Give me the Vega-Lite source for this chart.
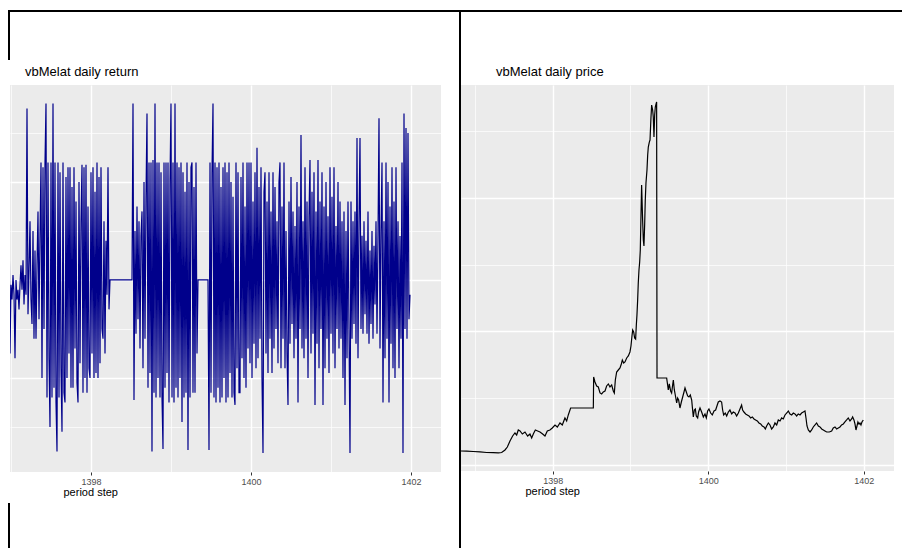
{
"$schema": "https://vega.github.io/schema/vega-lite/v6.json",
"background": "white",
"padding": {"left": 8, "top": 10, "right": 0, "bottom": 0},
"config": {"view": {"stroke": null}, "font": "Liberation Sans", "concat": {"spacing": 0}},
"datasets": {
"ret": [
{"t":1396.975,"r":1.7},{"t":1396.9875,"r":-1.5},{"t":1397,"r":-0.1},{"t":1397.0125,"r":-0.4},{"t":1397.025,"r":0.1},{"t":1397.0375,"r":-0.3},{"t":1397.05,"r":-1.6},{"t":1397.0625,"r":0.0},{"t":1397.075,"r":-0.4},{"t":1397.0875,"r":-0.2},{"t":1397.1,"r":-0.6},{"t":1397.1125,"r":-0.1},{"t":1397.125,"r":0.3},{"t":1397.1375,"r":-0.2},{"t":1397.15,"r":0.4},{"t":1397.1625,"r":-0.5},{"t":1397.175,"r":0.1},{"t":1397.1875,"r":-0.3},{"t":1397.2,"r":3.5},{"t":1397.2125,"r":-0.7},{"t":1397.225,"r":0.2},{"t":1397.2375,"r":1.2},{"t":1397.25,"r":-0.4},{"t":1397.2625,"r":-0.9},{"t":1397.275,"r":1.0},{"t":1397.2875,"r":-1.2},{"t":1397.3,"r":0.6},{"t":1397.3125,"r":-1.2},{"t":1397.325,"r":0.3},{"t":1397.3375,"r":1.4},{"t":1397.35,"r":-0.8},{"t":1397.3625,"r":0.9},{"t":1397.375,"r":2.4},{"t":1397.3875,"r":-2.0},{"t":1397.4,"r":2.3},{"t":1397.4125,"r":-1.0},{"t":1397.425,"r":2.4},{"t":1397.4375,"r":3.6},{"t":1397.45,"r":-2.4},{"t":1397.4625,"r":2.4},{"t":1397.475,"r":-1.6},{"t":1397.4875,"r":-3.0},{"t":1397.5,"r":2.4},{"t":1397.5125,"r":-2.4},{"t":1397.525,"r":3.6},{"t":1397.5375,"r":-2.2},{"t":1397.55,"r":2.4},{"t":1397.5625,"r":-2.5},{"t":1397.575,"r":-3.5},{"t":1397.5875,"r":2.4},{"t":1397.6,"r":-2.4},{"t":1397.6125,"r":2.2},{"t":1397.625,"r":-1.8},{"t":1397.6375,"r":-3.1},{"t":1397.65,"r":2.4},{"t":1397.6625,"r":-2.3},{"t":1397.675,"r":-2.5},{"t":1397.6875,"r":2.1},{"t":1397.7,"r":-2.0},{"t":1397.7125,"r":2.3},{"t":1397.725,"r":-1.5},{"t":1397.7375,"r":2.3},{"t":1397.75,"r":-2.2},{"t":1397.7625,"r":1.9},{"t":1397.775,"r":-2.2},{"t":1397.7875,"r":2.3},{"t":1397.8,"r":-1.4},{"t":1397.8125,"r":1.6},{"t":1397.825,"r":-2.1},{"t":1397.8375,"r":-2.5},{"t":1397.85,"r":2.0},{"t":1397.8625,"r":-1.7},{"t":1397.875,"r":1.2},{"t":1397.8875,"r":2.35},{"t":1397.9,"r":-2.3},{"t":1397.9125,"r":2.3},{"t":1397.925,"r":-2.0},{"t":1397.9375,"r":2.35},{"t":1397.95,"r":-2.3},{"t":1397.9625,"r":1.5},{"t":1397.975,"r":-1.8},{"t":1397.9875,"r":-2.0},
{"t":1398,"r":2.2},{"t":1398.0125,"r":-1.5},{"t":1398.025,"r":2.3},{"t":1398.0375,"r":-2.0},{"t":1398.05,"r":1.8},{"t":1398.0625,"r":-1.9},{"t":1398.075,"r":2.4},{"t":1398.0875,"r":-2.0},{"t":1398.1,"r":2.1},{"t":1398.1125,"r":-1.7},{"t":1398.125,"r":2.3},{"t":1398.1375,"r":-1.0},{"t":1398.15,"r":-1.2},{"t":1398.1625,"r":1.2},{"t":1398.175,"r":-1.5},{"t":1398.1875,"r":0.8},{"t":1398.2,"r":-0.3},{"t":1398.2125,"r":2.3},{"t":1398.225,"r":-0.6},{"t":1398.2375,"r":0.0},{"t":1398.5125,"r":0.0},{"t":1398.525,"r":3.6},{"t":1398.5375,"r":-2.45},{"t":1398.55,"r":1.0},{"t":1398.5625,"r":-1.1},{"t":1398.575,"r":1.5},{"t":1398.5875,"r":-0.8},{"t":1398.6,"r":1.2},{"t":1398.6125,"r":-1.4},{"t":1398.625,"r":0.9},{"t":1398.6375,"r":1.4},{"t":1398.65,"r":-1.8},{"t":1398.6625,"r":2.0},{"t":1398.675,"r":-1.2},{"t":1398.6875,"r":1.7},{"t":1398.7,"r":3.4},{"t":1398.7125,"r":-2.2},{"t":1398.725,"r":2.4},{"t":1398.7375,"r":-1.9},{"t":1398.75,"r":2.4},{"t":1398.7625,"r":-3.5},{"t":1398.775,"r":2.45},{"t":1398.7875,"r":-2.3},{"t":1398.8,"r":3.6},{"t":1398.8125,"r":-2.4},{"t":1398.825,"r":2.4},{"t":1398.8375,"r":-2.0},{"t":1398.85,"r":2.4},{"t":1398.8625,"r":-2.4},{"t":1398.875,"r":2.2},{"t":1398.8875,"r":-2.4},{"t":1398.9,"r":-3.45},{"t":1398.9125,"r":2.4},{"t":1398.925,"r":-2.2},{"t":1398.9375,"r":2.4},{"t":1398.95,"r":-1.9},{"t":1398.9625,"r":2.4},{"t":1398.975,"r":-2.5},{"t":1398.9875,"r":2.0},
{"t":1399,"r":3.6},{"t":1399.0125,"r":-2.4},{"t":1399.025,"r":2.4},{"t":1399.0375,"r":-2.5},{"t":1399.05,"r":3.6},{"t":1399.0625,"r":-2.2},{"t":1399.075,"r":2.4},{"t":1399.0875,"r":-2.4},{"t":1399.1,"r":2.3},{"t":1399.1125,"r":-2.0},{"t":1399.125,"r":2.4},{"t":1399.1375,"r":-2.9},{"t":1399.15,"r":2.2},{"t":1399.1625,"r":-2.4},{"t":1399.175,"r":1.8},{"t":1399.1875,"r":-2.3},{"t":1399.2,"r":2.4},{"t":1399.2125,"r":-3.47},{"t":1399.225,"r":2.0},{"t":1399.2375,"r":-2.4},{"t":1399.25,"r":2.3},{"t":1399.2625,"r":2.4},{"t":1399.275,"r":-2.3},{"t":1399.2875,"r":1.9},{"t":1399.3,"r":-2.3},{"t":1399.3125,"r":2.4},{"t":1399.325,"r":-1.5},{"t":1399.3375,"r":0.0},{"t":1399.4625,"r":0.0},{"t":1399.475,"r":-3.47},{"t":1399.4875,"r":2.4},{"t":1399.5,"r":-2.3},{"t":1399.5125,"r":2.2},{"t":1399.525,"r":3.6},{"t":1399.5375,"r":-2.4},{"t":1399.55,"r":2.4},{"t":1399.5625,"r":-2.5},{"t":1399.575,"r":2.3},{"t":1399.5875,"r":-2.2},{"t":1399.6,"r":2.4},{"t":1399.6125,"r":-2.5},{"t":1399.625,"r":1.9},{"t":1399.6375,"r":-2.4},{"t":1399.65,"r":2.3},{"t":1399.6625,"r":-2.0},{"t":1399.675,"r":2.4},{"t":1399.6875,"r":-2.5},{"t":1399.7,"r":2.2},{"t":1399.7125,"r":-2.4},{"t":1399.725,"r":2.4},{"t":1399.7375,"r":-1.9},{"t":1399.75,"r":2.0},{"t":1399.7625,"r":-2.4},{"t":1399.775,"r":1.7},{"t":1399.7875,"r":-2.3},{"t":1399.8,"r":-2.55},{"t":1399.8125,"r":2.4},{"t":1399.825,"r":-1.8},{"t":1399.8375,"r":2.2},{"t":1399.85,"r":-2.3},{"t":1399.8625,"r":-2.3},{"t":1399.875,"r":2.1},{"t":1399.8875,"r":-1.6},{"t":1399.9,"r":2.4},{"t":1399.9125,"r":-2.0},{"t":1399.925,"r":1.5},{"t":1399.9375,"r":-2.2},{"t":1399.95,"r":2.4},{"t":1399.9625,"r":-1.4},{"t":1399.975,"r":2.4},{"t":1399.9875,"r":-1.7},
{"t":1400,"r":2.4},{"t":1400.0125,"r":-2.0},{"t":1400.025,"r":1.6},{"t":1400.0375,"r":-1.3},{"t":1400.05,"r":2.2},{"t":1400.0625,"r":-1.8},{"t":1400.075,"r":2.7},{"t":1400.0875,"r":-1.6},{"t":1400.1,"r":1.9},{"t":1400.1125,"r":-1.2},{"t":1400.125,"r":2.3},{"t":1400.1375,"r":-2.0},{"t":1400.15,"r":-3.53},{"t":1400.1625,"r":1.8},{"t":1400.175,"r":2.2},{"t":1400.1875,"r":-1.5},{"t":1400.2,"r":1.6},{"t":1400.2125,"r":-1.9},{"t":1400.225,"r":2.2},{"t":1400.2375,"r":-1.2},{"t":1400.25,"r":1.4},{"t":1400.2625,"r":-1.9},{"t":1400.275,"r":2.2},{"t":1400.2875,"r":-1.4},{"t":1400.3,"r":1.9},{"t":1400.3125,"r":-1.0},{"t":1400.325,"r":1.2},{"t":1400.3375,"r":-1.7},{"t":1400.35,"r":2.0},{"t":1400.3625,"r":2.4},{"t":1400.375,"r":-1.8},{"t":1400.3875,"r":1.5},{"t":1400.4,"r":-1.2},{"t":1400.4125,"r":2.4},{"t":1400.425,"r":-1.8},{"t":1400.4375,"r":1.0},{"t":1400.45,"r":-1.5},{"t":1400.4625,"r":-2.55},{"t":1400.475,"r":1.6},{"t":1400.4875,"r":-1.3},{"t":1400.5,"r":2.1},{"t":1400.5125,"r":-0.9},{"t":1400.525,"r":1.4},{"t":1400.5375,"r":-1.6},{"t":1400.55,"r":1.1},{"t":1400.5625,"r":-1.2},{"t":1400.575,"r":2.0},{"t":1400.5875,"r":-2.5},{"t":1400.6,"r":1.5},{"t":1400.6125,"r":-1.0},{"t":1400.625,"r":2.96},{"t":1400.6375,"r":-1.4},{"t":1400.65,"r":1.2},{"t":1400.6625,"r":-1.6},{"t":1400.675,"r":2.3},{"t":1400.6875,"r":-1.2},{"t":1400.7,"r":1.6},{"t":1400.7125,"r":-2.0},{"t":1400.725,"r":1.3},{"t":1400.7375,"r":2.45},{"t":1400.75,"r":-1.5},{"t":1400.7625,"r":1.8},{"t":1400.775,"r":-1.1},{"t":1400.7875,"r":2.2},{"t":1400.8,"r":-2.55},{"t":1400.8125,"r":1.4},{"t":1400.825,"r":-1.3},{"t":1400.8375,"r":2.45},{"t":1400.85,"r":-1.8},{"t":1400.8625,"r":1.6},{"t":1400.875,"r":-1.0},{"t":1400.8875,"r":2.2},{"t":1400.9,"r":-2.55},{"t":1400.9125,"r":1.5},{"t":1400.925,"r":-1.8},{"t":1400.9375,"r":2.0},{"t":1400.95,"r":-1.2},{"t":1400.9625,"r":1.3},{"t":1400.975,"r":-1.9},{"t":1400.9875,"r":2.3},
{"t":1401,"r":-1.1},{"t":1401.0125,"r":1.7},{"t":1401.025,"r":-1.5},{"t":1401.0375,"r":2.3},{"t":1401.05,"r":-1.8},{"t":1401.0625,"r":1.1},{"t":1401.075,"r":-1.0},{"t":1401.0875,"r":2.0},{"t":1401.1,"r":-1.4},{"t":1401.1125,"r":1.6},{"t":1401.125,"r":-1.2},{"t":1401.1375,"r":1.2},{"t":1401.15,"r":-2.0},{"t":1401.1625,"r":1.4},{"t":1401.175,"r":-2.55},{"t":1401.1875,"r":1.0},{"t":1401.2,"r":-1.6},{"t":1401.2125,"r":1.6},{"t":1401.225,"r":-1.0},{"t":1401.2375,"r":-3.53},{"t":1401.25,"r":1.6},{"t":1401.2625,"r":-1.2},{"t":1401.275,"r":1.2},{"t":1401.2875,"r":-0.9},{"t":1401.3,"r":1.4},{"t":1401.3125,"r":-1.3},{"t":1401.325,"r":2.9},{"t":1401.3375,"r":-1.6},{"t":1401.35,"r":1.2},{"t":1401.3625,"r":2.9},{"t":1401.375,"r":-1.0},{"t":1401.3875,"r":0.9},{"t":1401.4,"r":-1.1},{"t":1401.4125,"r":1.2},{"t":1401.425,"r":-0.7},{"t":1401.4375,"r":0.8},{"t":1401.45,"r":-1.1},{"t":1401.4625,"r":1.4},{"t":1401.475,"r":-1.3},{"t":1401.4875,"r":0.6},{"t":1401.5,"r":-0.9},{"t":1401.5125,"r":1.0},{"t":1401.525,"r":-1.2},{"t":1401.5375,"r":0.7},{"t":1401.55,"r":-0.5},{"t":1401.5625,"r":1.2},{"t":1401.575,"r":-1.1},{"t":1401.5875,"r":0.9},{"t":1401.6,"r":3.3},{"t":1401.6125,"r":-1.4},{"t":1401.625,"r":1.0},{"t":1401.6375,"r":2.4},{"t":1401.65,"r":-2.5},{"t":1401.6625,"r":1.2},{"t":1401.675,"r":-1.6},{"t":1401.6875,"r":2.4},{"t":1401.7,"r":-1.2},{"t":1401.7125,"r":2.0},{"t":1401.725,"r":-2.5},{"t":1401.7375,"r":1.5},{"t":1401.75,"r":-1.3},{"t":1401.7625,"r":2.3},{"t":1401.775,"r":-1.8},{"t":1401.7875,"r":1.6},{"t":1401.8,"r":-2.0},{"t":1401.8125,"r":2.3},{"t":1401.825,"r":-1.0},{"t":1401.8375,"r":1.2},{"t":1401.85,"r":-1.8},{"t":1401.8625,"r":0.9},{"t":1401.875,"r":-1.2},{"t":1401.8875,"r":2.4},{"t":1401.9,"r":-3.53},{"t":1401.9125,"r":3.4},{"t":1401.925,"r":-1.0},{"t":1401.9375,"r":3.1},{"t":1401.95,"r":-1.2},{"t":1401.9625,"r":3.0},{"t":1401.975,"r":-0.8},{"t":1401.9875,"r":-0.3}
],
"price": [
{"t":1396.807,"p":2210},{"t":1396.893,"p":2207},{"t":1396.978,"p":2202},{"t":1397.064,"p":2195},{"t":1397.150,"p":2187},{"t":1397.236,"p":2184},{"t":1397.300,"p":2180},{"t":1397.343,"p":2187},{"t":1397.386,"p":2225},{"t":1397.416,"p":2269},{"t":1397.450,"p":2359},{"t":1397.484,"p":2434},{"t":1397.514,"p":2479},{"t":1397.536,"p":2449},{"t":1397.557,"p":2524},{"t":1397.579,"p":2509},{"t":1397.609,"p":2464},{"t":1397.643,"p":2494},{"t":1397.677,"p":2434},{"t":1397.707,"p":2464},{"t":1397.729,"p":2404},{"t":1397.750,"p":2464},{"t":1397.776,"p":2524},{"t":1397.806,"p":2509},{"t":1397.836,"p":2494},{"t":1397.870,"p":2464},{"t":1397.900,"p":2434},{"t":1397.930,"p":2509},{"t":1397.964,"p":2524},{"t":1397.994,"p":2554},{"t":1398.029,"p":2599},{"t":1398.059,"p":2569},{"t":1398.093,"p":2629},{"t":1398.123,"p":2599},{"t":1398.157,"p":2704},{"t":1398.179,"p":2659},{"t":1398.200,"p":2749},{"t":1398.230,"p":2853},{"t":1398.522,"p":2853},{"t":1398.526,"p":3317},{"t":1398.543,"p":3243},{"t":1398.565,"p":3183},{"t":1398.586,"p":3168},{"t":1398.608,"p":3078},{"t":1398.629,"p":3063},{"t":1398.650,"p":3093},{"t":1398.672,"p":3108},{"t":1398.693,"p":3183},{"t":1398.715,"p":3213},{"t":1398.736,"p":3168},{"t":1398.758,"p":3198},{"t":1398.779,"p":3108},{"t":1398.792,"p":3078},{"t":1398.805,"p":3273},{"t":1398.822,"p":3392},{"t":1398.843,"p":3422},{"t":1398.865,"p":3452},{"t":1398.882,"p":3512},{"t":1398.895,"p":3572},{"t":1398.912,"p":3527},{"t":1398.929,"p":3542},{"t":1398.951,"p":3602},{"t":1398.972,"p":3632},{"t":1398.993,"p":3692},{"t":1399.006,"p":3781},{"t":1399.019,"p":3931},{"t":1399.028,"p":4021},{"t":1399.041,"p":3991},{"t":1399.053,"p":3901},{"t":1399.066,"p":3886},{"t":1399.075,"p":4096},{"t":1399.083,"p":4246},{"t":1399.092,"p":4470},{"t":1399.100,"p":4724},{"t":1399.109,"p":4919},{"t":1399.118,"p":5039},{"t":1399.126,"p":5219},{"t":1399.135,"p":5743},{"t":1399.143,"p":6192},{"t":1399.156,"p":5668},{"t":1399.165,"p":5368},{"t":1399.173,"p":5278},{"t":1399.182,"p":5593},{"t":1399.190,"p":5967},{"t":1399.199,"p":6222},{"t":1399.212,"p":6416},{"t":1399.221,"p":6641},{"t":1399.229,"p":6760},{"t":1399.242,"p":6835},{"t":1399.251,"p":6865},{"t":1399.263,"p":7194},{"t":1399.272,"p":7389},{"t":1399.285,"p":7314},{"t":1399.293,"p":7209},{"t":1399.302,"p":6910},{"t":1399.311,"p":7239},{"t":1399.319,"p":7359},{"t":1399.328,"p":7404},{"t":1399.336,"p":7434},{"t":1399.341,"p":3302},{"t":1399.465,"p":3302},{"t":1399.474,"p":3228},{"t":1399.486,"p":3123},{"t":1399.499,"p":3213},{"t":1399.516,"p":3108},{"t":1399.529,"p":3078},{"t":1399.542,"p":3198},{"t":1399.551,"p":3273},{"t":1399.564,"p":3123},{"t":1399.576,"p":3048},{"t":1399.594,"p":2928},{"t":1399.606,"p":3003},{"t":1399.619,"p":2973},{"t":1399.636,"p":2853},{"t":1399.654,"p":2943},{"t":1399.671,"p":3018},{"t":1399.688,"p":3093},{"t":1399.701,"p":3153},{"t":1399.718,"p":3093},{"t":1399.735,"p":3033},{"t":1399.752,"p":3018},{"t":1399.769,"p":3048},{"t":1399.787,"p":2973},{"t":1399.799,"p":2823},{"t":1399.808,"p":2719},{"t":1399.821,"p":2823},{"t":1399.834,"p":2838},{"t":1399.846,"p":2734},{"t":1399.864,"p":2704},{"t":1399.876,"p":2793},{"t":1399.894,"p":2853},{"t":1399.915,"p":2793},{"t":1399.937,"p":2719},{"t":1399.958,"p":2764},{"t":1399.975,"p":2704},{"t":1399.992,"p":2808},{"t":1400.009,"p":2838},{"t":1400.031,"p":2778},{"t":1400.052,"p":2749},{"t":1400.074,"p":2808},{"t":1400.095,"p":2823},{"t":1400.112,"p":2883},{"t":1400.129,"p":2943},{"t":1400.151,"p":2958},{"t":1400.172,"p":2943},{"t":1400.185,"p":2823},{"t":1400.198,"p":2749},{"t":1400.219,"p":2778},{"t":1400.237,"p":2734},{"t":1400.258,"p":2793},{"t":1400.279,"p":2823},{"t":1400.301,"p":2764},{"t":1400.322,"p":2793},{"t":1400.344,"p":2778},{"t":1400.365,"p":2734},{"t":1400.387,"p":2778},{"t":1400.408,"p":2838},{"t":1400.429,"p":2898},{"t":1400.442,"p":2823},{"t":1400.459,"p":2793},{"t":1400.481,"p":2764},{"t":1400.502,"p":2749},{"t":1400.524,"p":2734},{"t":1400.545,"p":2704},{"t":1400.567,"p":2719},{"t":1400.588,"p":2689},{"t":1400.609,"p":2674},{"t":1400.631,"p":2659},{"t":1400.652,"p":2629},{"t":1400.674,"p":2614},{"t":1400.695,"p":2584},{"t":1400.717,"p":2569},{"t":1400.734,"p":2539},{"t":1400.751,"p":2584},{"t":1400.773,"p":2629},{"t":1400.794,"p":2599},{"t":1400.815,"p":2539},{"t":1400.837,"p":2569},{"t":1400.858,"p":2629},{"t":1400.880,"p":2599},{"t":1400.901,"p":2674},{"t":1400.923,"p":2659},{"t":1400.944,"p":2704},{"t":1400.965,"p":2689},{"t":1400.987,"p":2749},{"t":1401.008,"p":2778},{"t":1401.030,"p":2808},{"t":1401.051,"p":2764},{"t":1401.073,"p":2749},{"t":1401.094,"p":2778},{"t":1401.115,"p":2764},{"t":1401.137,"p":2734},{"t":1401.158,"p":2764},{"t":1401.180,"p":2749},{"t":1401.201,"p":2778},{"t":1401.223,"p":2793},{"t":1401.244,"p":2808},{"t":1401.257,"p":2704},{"t":1401.270,"p":2584},{"t":1401.287,"p":2524},{"t":1401.309,"p":2494},{"t":1401.330,"p":2524},{"t":1401.351,"p":2569},{"t":1401.373,"p":2599},{"t":1401.394,"p":2629},{"t":1401.416,"p":2584},{"t":1401.437,"p":2569},{"t":1401.459,"p":2539},{"t":1401.480,"p":2524},{"t":1401.501,"p":2509},{"t":1401.523,"p":2494},{"t":1401.557,"p":2494},{"t":1401.587,"p":2509},{"t":1401.608,"p":2554},{"t":1401.630,"p":2569},{"t":1401.651,"p":2539},{"t":1401.673,"p":2554},{"t":1401.694,"p":2569},{"t":1401.715,"p":2599},{"t":1401.737,"p":2614},{"t":1401.758,"p":2644},{"t":1401.780,"p":2674},{"t":1401.801,"p":2704},{"t":1401.823,"p":2659},{"t":1401.844,"p":2689},{"t":1401.857,"p":2719},{"t":1401.874,"p":2674},{"t":1401.887,"p":2614},{"t":1401.900,"p":2524},{"t":1401.913,"p":2584},{"t":1401.925,"p":2644},{"t":1401.938,"p":2614},{"t":1401.951,"p":2629},{"t":1401.964,"p":2599},{"t":1401.977,"p":2644},{"t":1401.994,"p":2674}
]
},
"spacing": 0,
"vconcat": [
{"width": 894, "height": 2, "data": {"values": []}, "mark": "point", "encoding": {}, "view": {"fill": "black", "stroke": null}},
{"spacing": 0, "hconcat": [
  {"spacing": 0, "vconcat": [
    {"width": 2, "height": 48, "data": {"values": []}, "mark": "point", "encoding": {}, "view": {"fill": "black", "stroke": null}},
    {"width": 2, "height": 443, "data": {"values": []}, "mark": "point", "encoding": {}},
    {"width": 2, "height": 60, "data": {"values": []}, "mark": "point", "encoding": {}, "view": {"fill": "black", "stroke": null}}
  ]},
  {"spacing": 0, "vconcat": [
    {"width": 1, "height": 54, "data": {"values": []}, "mark": "point", "encoding": {}},
    {"width": 431, "height": 387, "data": {"name": "ret"},
     "title": {"text": "vbMelat daily return", "anchor": "start", "frame": "group", "dx": 15, "fontSize": 13, "fontWeight": "normal", "color": "black", "font": "Liberation Sans", "baseline": "alphabetic", "offset": -4},
     "view": {"fill": "#EBEBEB", "stroke": null},
     "mark": {"type": "line", "color": "#00008B", "strokeWidth": 1.2, "clip": true},
     "encoding": {
       "x": {"field": "t", "type": "quantitative", "scale": {"domain": [1396.9875, 1402.375], "nice": false, "zero": false},
         "axis": {"values": [1397,1398,1399,1400,1401,1402], "format": "d", "labelExpr": "datum.value % 2 === 0 ? datum.label : ''", "domain": false, "tickSize": 3, "tickColor": {"condition": {"test": "datum.value % 2 === 0", "value": "#333333"}, "value": "transparent"}, "labelFontSize": 9, "labelColor": "#4D4D4D", "labelPadding": 2, "labelFont": "Liberation Sans", "grid": true, "gridColor": "white", "gridWidth": {"condition": {"test": "datum.value % 2 === 0", "value": 1.4}, "value": 0.7}, "title": "period step", "titleFont": "Liberation Sans", "titleFontSize": 11, "titleFontWeight": "normal", "titleColor": "black", "titleAlign": "left", "titleAnchor": "start", "titleX": 53, "titleY": 20, "titleBaseline": "middle"}},
       "y": {"field": "r", "type": "quantitative", "scale": {"domain": [-3.92, 3.98], "nice": false, "zero": false},
         "axis": {"values": [-3,-2,-1,0,1,2,3], "labels": false, "ticks": false, "domain": false, "title": null, "grid": true, "gridColor": "white", "gridWidth": {"condition": {"test": "datum.value % 2 === 0", "value": 1.4}, "value": 0.7}}}
     }}
  ]},
  {"width": 18, "height": 1, "data": {"values": []}, "mark": "point", "encoding": {}},
  {"width": 2, "height": 540, "data": {"values": []}, "mark": "point", "encoding": {}, "view": {"fill": "black", "stroke": null}},
  {"spacing": 0, "vconcat": [
    {"width": 1, "height": 54, "data": {"values": []}, "mark": "point", "encoding": {}},
    {"width": 433, "height": 386, "data": {"name": "price"},
     "title": {"text": "vbMelat daily price", "anchor": "start", "frame": "group", "dx": 35, "fontSize": 13, "fontWeight": "normal", "color": "black", "font": "Liberation Sans", "baseline": "alphabetic", "offset": -4},
     "view": {"fill": "#EBEBEB", "stroke": null},
     "mark": {"type": "line", "color": "black", "strokeWidth": 1.2, "clip": true},
     "encoding": {
       "x": {"field": "t", "type": "quantitative", "scale": {"domain": [1396.82, 1402.389], "nice": false, "zero": false},
         "axis": {"values": [1397,1398,1399,1400,1401,1402], "format": "d", "labelExpr": "datum.value % 2 === 0 ? datum.label : ''", "domain": false, "tickSize": 3, "tickColor": {"condition": {"test": "datum.value % 2 === 0", "value": "#333333"}, "value": "transparent"}, "labelFontSize": 9, "labelColor": "#4D4D4D", "labelPadding": 2, "labelFont": "Liberation Sans", "grid": true, "gridColor": "white", "gridWidth": {"condition": {"test": "datum.value % 2 === 0", "value": 1.4}, "value": 0.7}, "title": "period step", "titleFont": "Liberation Sans", "titleFontSize": 11, "titleFontWeight": "normal", "titleColor": "black", "titleAlign": "left", "titleAnchor": "start", "titleX": 64, "titleY": 20, "titleBaseline": "middle"}},
       "y": {"field": "p", "type": "quantitative", "scale": {"domain": [1910, 7689], "nice": false, "zero": false},
         "axis": {"values": [2000,3000,4000,5000,6000,7000], "labels": false, "ticks": false, "domain": false, "title": null, "grid": true, "gridColor": "white", "gridWidth": {"condition": {"test": "datum.value % 2000 === 0", "value": 1.4}, "value": 0.7}}}
     }}
  ]}
]}
]
}
